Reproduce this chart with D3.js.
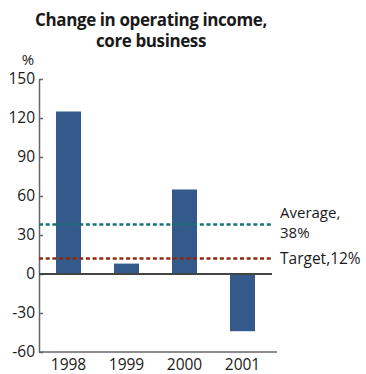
<!DOCTYPE html>
<html>
<head>
<meta charset="utf-8">
<script src="https://cdn.jsdelivr.net/npm/d3@7"></script>
<style>
  html, body { margin: 0; padding: 0; background: #fff; }
  svg { display: block; }
  text { font-family: "Open Sans", "Noto Sans", sans-serif; fill: #1a1a1a; }
</style>
</head>
<body>
<svg id="chart" width="366" height="374"></svg>
<script>
// Year-over-year change in core-business operating income, %
const years = ["1998", "1999", "2000", "2001"];
const changes = [125, 8, 65, -44];
const yTicks = [150, 120, 90, 60, 30, 0, -30, -60];
const averageValue = 38;
const targetValue = 12;
const refLabels = [["Average,", "38%"], ["Target,12%"]];
const titleLines = ["Change in operating income,", "core business"];

const svg = d3.select("#chart");

const x = d3.scaleBand()
  .domain(years)
  .range([39, 272])
  .paddingInner(0.569)
  .paddingOuter(0.293);

const y = d3.scaleLinear()
  .domain([-60, 150])
  .range([352, 79]);

// Title
svg.append("g")
  .selectAll("text")
  .data(titleLines)
  .join("text")
  .attr("x", 151)
  .attr("y", (d, i) => 26 + i * 21)
  .attr("text-anchor", "middle")
  .attr("font-size", 17)
  .attr("font-weight", "bold")
  .attr("letter-spacing", -0.4)
  .text(d => d);

// Unit label
svg.append("text")
  .attr("x", 28).attr("y", 65)
  .attr("text-anchor", "middle")
  .attr("font-size", 15)
  .text("%");

// Bars
svg.append("g")
  .selectAll("rect")
  .data(changes)
  .join("rect")
  .attr("x", (d, i) => x(years[i]))
  .attr("width", x.bandwidth())
  .attr("y", d => y(Math.max(0, d)))
  .attr("height", d => Math.abs(y(d) - y(0)))
  .attr("fill", "#335a8b");

// Left axis with inward ticks; plain hyphen for negatives
const yAxis = svg.append("g")
  .attr("transform", "translate(39,0)")
  .call(d3.axisLeft(y)
    .tickValues(yTicks)
    .tickFormat(d => String(d))
    .tickSizeInner(-4).tickSizeOuter(0).tickPadding(4));
yAxis.select(".domain").attr("stroke", "#666").attr("stroke-width", 1.5);
yAxis.selectAll(".tick line").attr("stroke", "#666").attr("stroke-width", 1.5);
yAxis.selectAll(".tick text")
  .attr("x", -4)
  .attr("font-size", 15.5)
  .attr("font-family", "'Open Sans', 'Noto Sans', sans-serif")
  .attr("fill", "#1a1a1a");

// Bottom baseline at -60 and year labels
const xAxis = svg.append("g")
  .attr("transform", `translate(0,${y(-60)})`)
  .call(d3.axisBottom(x).tickSize(0).tickPadding(7));
xAxis.select(".domain").attr("stroke", "#666").attr("stroke-width", 1.5)
  .attr("d", `M39,0H277`);
xAxis.selectAll(".tick text")
  .attr("font-size", 15.5)
  .attr("font-family", "'Open Sans', 'Noto Sans', sans-serif")
  .attr("fill", "#1a1a1a");

// Zero line
svg.append("line")
  .attr("x1", 39).attr("x2", 272)
  .attr("y1", y(0)).attr("y2", y(0))
  .attr("stroke", "#444").attr("stroke-width", 2);

// Reference lines
const refs = [
  { v: averageValue, color: "#167373" },
  { v: targetValue, color: "#8c2a0e" }
];
svg.append("g")
  .selectAll("line")
  .data(refs)
  .join("line")
  .attr("x1", 39).attr("x2", 272)
  .attr("y1", d => y(d.v)).attr("y2", d => y(d.v))
  .attr("stroke", d => d.color)
  .attr("stroke-width", 2.5)
  .attr("stroke-dasharray", "4,2.7");

// Reference labels (two-line average label drawn as separate rows)
svg.append("g")
  .selectAll("text")
  .data(refLabels[0])
  .join("text")
  .attr("x", 280)
  .attr("y", (d, i) => y(averageValue) - 7 + i * 20)
  .attr("font-size", 15)
  .text(d => d);

svg.append("text")
  .attr("x", 280).attr("y", y(targetValue) + 6)
  .attr("font-size", 15.5)
  .text(refLabels[1][0]);
</script>
</body>
</html>
